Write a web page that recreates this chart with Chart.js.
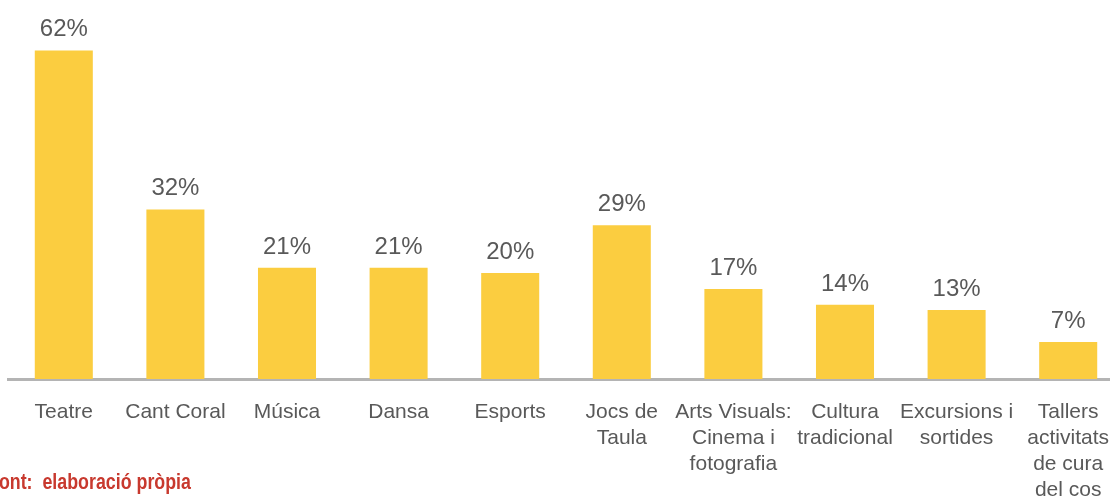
<!DOCTYPE html>
<html>
<head>
<meta charset="utf-8">
<script src="https://cdn.jsdelivr.net/npm/chart.js@4.4.1/dist/chart.umd.min.js"></script>
<style>
  html, body { margin: 0; padding: 0; overflow: hidden; background: #fff; }
  #wrap { position: relative; width: 1110px; height: 498px; overflow: hidden; }
  #grafic { position: absolute; left: 0; top: 0; }
  #font {
    position: absolute; left: -12px; top: 469px;
    font-family: "Liberation Sans", Arial, sans-serif;
    font-weight: bold; font-size: 22px; color: #c8392e;
    white-space: pre;
    transform: scaleX(0.81); transform-origin: left top;
  }
</style>
</head>
<body>
<div id="wrap">
  <canvas id="grafic" width="1124" height="498"></canvas>
  <div id="font">Font:  elaboració pròpia</div>
</div>
<script>
var categories = [
    ["Teatre"], ["Cant Coral"], ["Música"], ["Dansa"], ["Esports"],
    ["Jocs de", "Taula"], ["Arts Visuals:", "Cinema i", "fotografia"],
    ["Cultura", "tradicional"], ["Excursions i", "sortides"],
    ["Tallers", "activitats", "de cura", "del cos"]
];
var percentatges = [62, 32, 21, 21, 20, 29, 17, 14, 13, 7];

// etiquetes de valor damunt de cada barra
var etiquetes = {
    id: 'etiquetes',
    afterDatasetsDraw: function (chart) {
        var c = chart.ctx;
        var meta = chart.getDatasetMeta(0);
        c.save();
        c.font = '24px "Liberation Sans", Arial, sans-serif';
        c.fillStyle = '#595959';
        c.textAlign = 'center';
        c.textBaseline = 'alphabetic';
        meta.data.forEach(function (bar, i) {
            c.fillText(percentatges[i] + '%', bar.x, bar.y - 14);
        });
        c.restore();
    }
};

var ctx = document.getElementById('grafic').getContext('2d');
var chart = new Chart(ctx, {
    type: 'bar',
    data: {
        labels: categories,
        datasets: [{
            data: percentatges,
            backgroundColor: '#fbcd40',
            borderWidth: 0,
            categoryPercentage: 1,
            barPercentage: 0.52
        }]
    },
    options: {
        responsive: false,
        animation: false,
        layout: { padding: { left: 8, right: 0, top: 8, bottom: 0 } },
        plugins: {
            legend: { display: false },
            tooltip: { enabled: false }
        },
        scales: {
            x: {
                grid: { display: false },
                border: { display: true, color: '#b4b4b4', width: 3 },
                ticks: {
                    color: '#595959',
                    padding: 12,
                    maxRotation: 0,
                    autoSkip: false,
                    font: { family: '"Liberation Sans", Arial, sans-serif', size: 21, lineHeight: 1.24 }
                },
                afterFit: function (scale) { scale.height = 119; }
            },
            y: {
                display: false,
                min: 0,
                max: 70
            }
        }
    },
    plugins: [etiquetes]
});
</script>
</body>
</html>
